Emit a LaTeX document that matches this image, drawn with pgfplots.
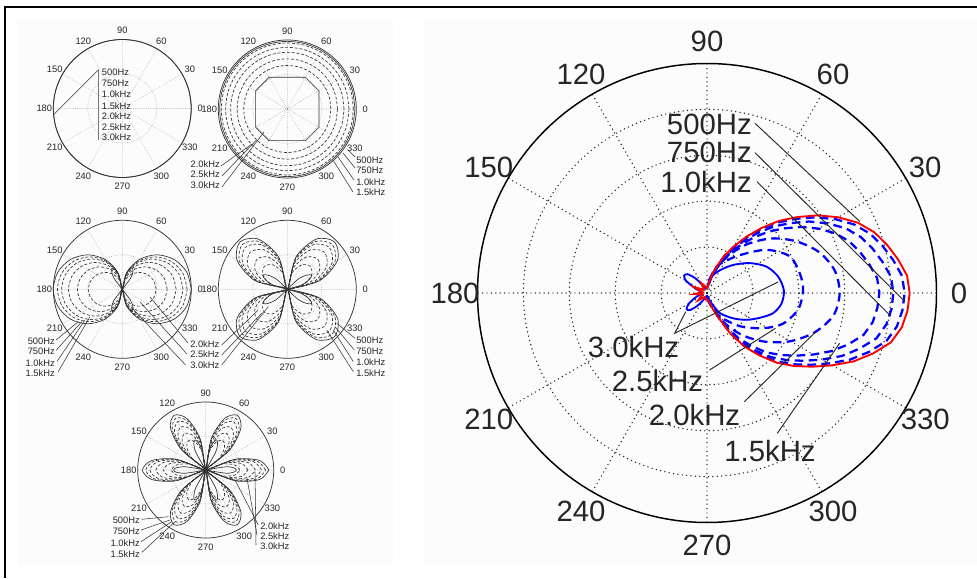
\documentclass[border=0pt]{standalone}
\usepackage{pgfplots}
\pgfplotsset{compat=1.18}
\usepgfplotslibrary{polar}
\usepackage{pgfplotstable}
\usepackage{fontspec}
\setmainfont{Liberation Sans}

% ---------- omnidirectional (order 1) : radius per frequency ----------
\pgfplotstableread{
a   r500  r750  r1k   r15   r20   r25   rall
0   0.980 0.957 0.894 0.822 0.727 0.631 1
15  0.980 0.957 0.894 0.822 0.727 0.631 1
30  0.980 0.957 0.894 0.822 0.727 0.631 1
45  0.980 0.957 0.894 0.822 0.727 0.631 1
60  0.980 0.957 0.894 0.822 0.727 0.631 1
75  0.980 0.957 0.894 0.822 0.727 0.631 1
90  0.980 0.957 0.894 0.822 0.727 0.631 1
105 0.980 0.957 0.894 0.822 0.727 0.631 1
120 0.980 0.957 0.894 0.822 0.727 0.631 1
135 0.980 0.957 0.894 0.822 0.727 0.631 1
150 0.980 0.957 0.894 0.822 0.727 0.631 1
165 0.980 0.957 0.894 0.822 0.727 0.631 1
180 0.980 0.957 0.894 0.822 0.727 0.631 1
195 0.980 0.957 0.894 0.822 0.727 0.631 1
210 0.980 0.957 0.894 0.822 0.727 0.631 1
225 0.980 0.957 0.894 0.822 0.727 0.631 1
240 0.980 0.957 0.894 0.822 0.727 0.631 1
255 0.980 0.957 0.894 0.822 0.727 0.631 1
270 0.980 0.957 0.894 0.822 0.727 0.631 1
285 0.980 0.957 0.894 0.822 0.727 0.631 1
300 0.980 0.957 0.894 0.822 0.727 0.631 1
315 0.980 0.957 0.894 0.822 0.727 0.631 1
330 0.980 0.957 0.894 0.822 0.727 0.631 1
345 0.980 0.957 0.894 0.822 0.727 0.631 1
360 0.980 0.957 0.894 0.822 0.727 0.631 1
}\tabB

% ---------- dipole ----------
\pgfplotstableread{
a   r500  r750  r1k   r15   r20   r25
0   1.000 0.940 0.880 0.780 0.650 0.490
15  0.966 0.908 0.850 0.753 0.628 0.473
30  0.866 0.814 0.762 0.675 0.563 0.424
45  0.707 0.665 0.622 0.551 0.460 0.346
60  0.500 0.470 0.440 0.390 0.325 0.245
75  0.259 0.243 0.228 0.202 0.168 0.127
90  0     0     0     0     0     0
105 0.259 0.243 0.228 0.202 0.168 0.127
120 0.500 0.470 0.440 0.390 0.325 0.245
135 0.707 0.665 0.622 0.551 0.460 0.346
150 0.866 0.814 0.762 0.675 0.563 0.424
165 0.966 0.908 0.850 0.753 0.628 0.473
180 1.000 0.940 0.880 0.780 0.650 0.490
195 0.966 0.908 0.850 0.753 0.628 0.473
210 0.866 0.814 0.762 0.675 0.563 0.424
225 0.707 0.665 0.622 0.551 0.460 0.346
240 0.500 0.470 0.440 0.390 0.325 0.245
255 0.259 0.243 0.228 0.202 0.168 0.127
270 0     0     0     0     0     0
285 0.259 0.243 0.228 0.202 0.168 0.127
300 0.500 0.470 0.440 0.390 0.325 0.245
315 0.707 0.665 0.622 0.551 0.460 0.346
330 0.866 0.814 0.762 0.675 0.563 0.424
345 0.966 0.908 0.850 0.753 0.628 0.473
360 1.000 0.940 0.880 0.780 0.650 0.490
}\tabC

% ---------- quadrupole ----------
\pgfplotstableread{
a   r500  r750  r1k   r15   r20   r25
0   0     0     0     0     0     0
15  0.485 0.460 0.430 0.380 0.310 0.235
30  0.840 0.797 0.745 0.658 0.537 0.407
45  0.970 0.920 0.860 0.760 0.620 0.470
60  0.840 0.797 0.745 0.658 0.537 0.407
75  0.485 0.460 0.430 0.380 0.310 0.235
90  0     0     0     0     0     0
105 0.485 0.460 0.430 0.380 0.310 0.235
120 0.840 0.797 0.745 0.658 0.537 0.407
135 0.970 0.920 0.860 0.760 0.620 0.470
150 0.840 0.797 0.745 0.658 0.537 0.407
165 0.485 0.460 0.430 0.380 0.310 0.235
180 0     0     0     0     0     0
195 0.485 0.460 0.430 0.380 0.310 0.235
210 0.840 0.797 0.745 0.658 0.537 0.407
225 0.970 0.920 0.860 0.760 0.620 0.470
240 0.840 0.797 0.745 0.658 0.537 0.407
255 0.485 0.460 0.430 0.380 0.310 0.235
270 0     0     0     0     0     0
285 0.485 0.460 0.430 0.380 0.310 0.235
300 0.840 0.797 0.745 0.658 0.537 0.407
315 0.970 0.920 0.860 0.760 0.620 0.470
330 0.840 0.797 0.745 0.658 0.537 0.407
345 0.485 0.460 0.430 0.380 0.310 0.235
360 0     0     0     0     0     0
}\tabD

% ---------- hexapole ----------
\pgfplotstableread{
a   r500  r750  r1k   r15   r20   r25
0   0.930 0.880 0.820 0.730 0.620 0.500
10  0.805 0.762 0.710 0.632 0.537 0.433
20  0.465 0.440 0.410 0.365 0.310 0.250
30  0     0     0     0     0     0
40  0.465 0.440 0.410 0.365 0.310 0.250
50  0.805 0.762 0.710 0.632 0.537 0.433
60  0.930 0.880 0.820 0.730 0.620 0.500
70  0.805 0.762 0.710 0.632 0.537 0.433
80  0.465 0.440 0.410 0.365 0.310 0.250
90  0     0     0     0     0     0
100 0.465 0.440 0.410 0.365 0.310 0.250
110 0.805 0.762 0.710 0.632 0.537 0.433
120 0.930 0.880 0.820 0.730 0.620 0.500
130 0.805 0.762 0.710 0.632 0.537 0.433
140 0.465 0.440 0.410 0.365 0.310 0.250
150 0     0     0     0     0     0
160 0.465 0.440 0.410 0.365 0.310 0.250
170 0.805 0.762 0.710 0.632 0.537 0.433
180 0.930 0.880 0.820 0.730 0.620 0.500
190 0.805 0.762 0.710 0.632 0.537 0.433
200 0.465 0.440 0.410 0.365 0.310 0.250
210 0     0     0     0     0     0
220 0.465 0.440 0.410 0.365 0.310 0.250
230 0.805 0.762 0.710 0.632 0.537 0.433
240 0.930 0.880 0.820 0.730 0.620 0.500
250 0.805 0.762 0.710 0.632 0.537 0.433
260 0.465 0.440 0.410 0.365 0.310 0.250
270 0     0     0     0     0     0
280 0.465 0.440 0.410 0.365 0.310 0.250
290 0.805 0.762 0.710 0.632 0.537 0.433
300 0.930 0.880 0.820 0.730 0.620 0.500
310 0.805 0.762 0.710 0.632 0.537 0.433
320 0.465 0.440 0.410 0.365 0.310 0.250
330 0     0     0     0     0     0
340 0.465 0.440 0.410 0.365 0.310 0.250
350 0.805 0.762 0.710 0.632 0.537 0.433
360 0.930 0.880 0.820 0.730 0.620 0.500
}\tabE

\pgfplotsset{
  polarbase/.style={hide axis, clip=false, anchor=center,
    xmin=-1, xmax=1, ymin=-1, ymax=1, data cs=polar},
  smallpolar/.style={polarbase, x=51.75pt, y=51.75pt},
  bigpolar/.style={polarbase, x=172.125pt, y=172.125pt},
  sl/.style={black!80, line width=0.5pt, smooth, mark=none},
  sd/.style={sl, dash pattern=on 2.2pt off 1.4pt},
  bd/.style={blue, line width=1.7pt, dash pattern=on 6.5pt off 4pt},
}

\newcommand{\smallgrid}[3]{%
  \foreach \a in {0,30,...,330}{\draw[sgrid] (#1) -- ++(\a:#2);}
  \draw[sgrid] (#1) circle[radius=#2/2];
  \draw[black!80, line width=0.55pt] (#1) circle[radius=#2];
  \foreach \a in {0,30,...,330}{\path (#1) ++(\a:#3) node[slab] {\a};}
}

\begin{document}
\begin{tikzpicture}[x=0.75pt, y=0.75pt,
  sgrid/.style={black!50, line width=0.45pt, dash pattern=on 0pt off 1.4pt, line cap=round},
  bgrid/.style={black!90, line width=1.1pt, dash pattern=on 0pt off 3.3pt, line cap=round},
  slab/.style={font=\fontsize{7}{8}\selectfont, text=black!85, inner sep=0pt},
  blab/.style={font=\fontsize{22}{24}\selectfont, text=black!85, inner sep=0pt},
  lead/.style={black!80, line width=0.4pt},
  blead/.style={black!85, line width=0.7pt}]

% panels and frame
\fill[black!1] (18,12) rectangle (393,558);
\fill[black!1] (424,12) rectangle (977,558);
\draw[line width=1.6pt] (4,571) -- (977,571);
\draw[line width=1.6pt] (5,571) -- (5,0);

\coordinate (cA) at (122.3,469.5);
\coordinate (cB) at (287.3,469);
\coordinate (cC) at (122.3,288.7);
\coordinate (cD) at (287.3,288.7);
\coordinate (cE) at (205.7,108);
\coordinate (cM) at (707,285);

\smallgrid{cA}{69}{78}
\smallgrid{cB}{69}{78}
\smallgrid{cC}{69}{78}
\smallgrid{cD}{69}{78}
\smallgrid{cE}{68}{77}

% large polar grid
\foreach \a in {0,30,...,330}{\draw[bgrid] (cM) -- ++(\a:229.5);}
\foreach \r in {0.2,0.4,0.6,0.8}{\draw[bgrid] (cM) circle[radius={\r*229.5}];}
\draw[black, line width=1.1pt] (cM) circle[radius=229.5];
\foreach \a in {0,30,...,330}{\path (cM) ++(\a:252) node[blab] {\a};}

% ---- plot A: all frequencies on the unit circle
\begin{axis}[smallpolar, at={(cA)}]
\addplot[sl] table[x=a, y=rall] {\tabB};
\end{axis}
\draw[lead] (98.3,438) -- (98.3,508) -- (53.3,463);
\foreach \t/\y in {500Hz/505.3, 750Hz/494.7, 1.0kHz/483.7, 1.5kHz/472, 2.0kHz/462, 2.5kHz/451.3, 3.0kHz/441.3}
  {\node[slab, anchor=west] at (101.7,\y) {\t};}

% ---- plot B
\begin{axis}[smallpolar, at={(cB)}]
\addplot[sl] table[x=a, y=r500] {\tabB};
\addplot[sd] table[x=a, y=r750] {\tabB};
\addplot[sd] table[x=a, y=r1k] {\tabB};
\addplot[sd] table[x=a, y=r15] {\tabB};
\addplot[sd] table[x=a, y=r20] {\tabB};
\addplot[sd] table[x=a, y=r25] {\tabB};
\addplot[black!80, line width=0.5pt] coordinates {(30,0.53) (60,0.53) (120,0.53) (150,0.53) (210,0.53) (240,0.53) (300,0.53) (330,0.53) (390,0.53)};
\end{axis}
\foreach \t/\y in {2.0kHz/414, 2.5kHz/404, 3.0kHz/393}{\node[slab, anchor=east] at (220,\y) {\t};}
\draw[lead] (221,412) -- (252,434);
\draw[lead] (222,402) -- (256.5,438);
\draw[lead] (222,391) -- (264,446);
\foreach \t/\y in {500Hz/418, 750Hz/407.3, 1.0kHz/396.3, 1.5kHz/385.7}{\node[slab, anchor=west] at (356,\y) {\t};}
\draw[lead] (355,421) -- (348,428);
\draw[lead] (355,410) -- (343,425);
\draw[lead] (354,398) -- (338,421);
\draw[lead] (353,386) -- (333,418);

% ---- plot C
\begin{axis}[smallpolar, at={(cC)}]
\addplot[sl] table[x=a, y=r500] {\tabC};
\addplot[sd] table[x=a, y=r750] {\tabC};
\addplot[sd] table[x=a, y=r1k] {\tabC};
\addplot[sd] table[x=a, y=r15] {\tabC};
\addplot[sd] table[x=a, y=r20] {\tabC};
\addplot[sd] table[x=a, y=r25] {\tabC};
\addplot[sl] coordinates {(45,0) (53,0.2) (59,0.3) (65,0.34) (71,0.3) (77,0.2) (85,0)
  (95,0) (103,0.2) (109,0.3) (115,0.34) (121,0.3) (127,0.2) (135,0)
  (225,0) (233,0.2) (239,0.3) (245,0.34) (251,0.3) (257,0.2) (265,0)
  (275,0) (283,0.2) (289,0.3) (295,0.34) (301,0.3) (307,0.2) (315,0)};
\end{axis}
\foreach \t/\y in {500Hz/236.3, 750Hz/226.3, 1.0kHz/215.3, 1.5kHz/204.7}{\node[slab, anchor=east] at (55,\y) {\t};}
\draw[lead] (56,238) -- (78.3,256.3);
\draw[lead] (56,227.5) -- (81.7,256.3);
\draw[lead] (57,216.5) -- (85,258);
\draw[lead] (58,206) -- (90,261.3);
\foreach \t/\y in {2.0kHz/233.7, 2.5kHz/223.7, 3.0kHz/213}{\node[slab, anchor=west] at (190,\y) {\t};}
\draw[lead] (188,235) -- (150,281);
\draw[lead] (187,224) -- (140,276);
\draw[lead] (185.5,213) -- (132,270);

% ---- plot D
\begin{axis}[smallpolar, at={(cD)}]
\addplot[sl] table[x=a, y=r500] {\tabD};
\addplot[sd] table[x=a, y=r750] {\tabD};
\addplot[sd] table[x=a, y=r1k] {\tabD};
\addplot[sd] table[x=a, y=r15] {\tabD};
\addplot[sd] table[x=a, y=r20] {\tabD};
\addplot[sd] table[x=a, y=r25] {\tabD};
\addplot[sl] coordinates {(8,0) (17,0.22) (24,0.35) (30,0.41) (36,0.35) (43,0.22) (52,0)
  (128,0) (137,0.22) (144,0.35) (150,0.41) (156,0.35) (163,0.22) (172,0)
  (188,0) (197,0.22) (204,0.35) (210,0.41) (216,0.35) (223,0.22) (232,0)
  (308,0) (317,0.22) (324,0.35) (330,0.41) (336,0.35) (343,0.22) (352,0)};
\end{axis}
\draw[lead] (221.7,233) -- (258.3,268);
\draw[lead] (221.7,223) -- (261.7,264.7);
\draw[lead] (221.7,213) -- (268.3,271.3);
\foreach \t/\y in {500Hz/238, 750Hz/227, 1.0kHz/215.7, 1.5kHz/205.3}{\node[slab, anchor=west] at (356,\y) {\t};}
\draw[lead] (355,239.7) -- (336.7,254.7);
\draw[lead] (354.3,228) -- (335,251.3);
\draw[lead] (353.3,216.3) -- (333.3,248);
\draw[lead] (353.3,206.3) -- (326.7,248);

% ---- plot E
\begin{axis}[polarbase, x=51pt, y=51pt, at={(cE)}]
\addplot[sl] table[x=a, y=r500] {\tabE};
\addplot[sd] table[x=a, y=r750] {\tabE};
\addplot[sd] table[x=a, y=r1k] {\tabE};
\addplot[sd] table[x=a, y=r15] {\tabE};
\addplot[sd] table[x=a, y=r20] {\tabE};
\addplot[sd] table[x=a, y=r25] {\tabE};
\addplot[sl] coordinates {(-15,0) (-9,0.3) (-4,0.42) (0,0.45) (4,0.42) (9,0.3) (15,0)
  (55,0) (61,0.3) (66,0.43) (70,0.47) (74,0.43) (79,0.3) (85,0)
  (95,0) (101,0.3) (106,0.43) (110,0.47) (114,0.43) (119,0.3) (125,0)
  (165,0) (171,0.3) (176,0.44) (180,0.47) (184,0.44) (189,0.3) (195,0)
  (235,0) (241,0.3) (246,0.43) (250,0.47) (254,0.43) (259,0.3) (265,0)
  (275,0) (281,0.3) (286,0.43) (290,0.47) (294,0.43) (299,0.3) (305,0)};
\end{axis}
\foreach \t/\y in {500Hz/57.3, 750Hz/46.3, 1.0kHz/34.7, 1.5kHz/23.7}{\node[slab, anchor=east] at (140,\y) {\t};}
\draw[lead] (141.7,58.7) -- (168.3,61.3);
\draw[lead] (141,48) -- (170,58);
\draw[lead] (141,36.3) -- (171.7,56.3);
\draw[lead] (142,25.7) -- (175,56.3);
\foreach \t/\y in {2.0kHz/52.3, 2.5kHz/42.3, 3.0kHz/32}{\node[slab, anchor=west] at (260,\y) {\t};}
\draw[lead] (258.3,53) -- (235,98);
\draw[lead] (257,43) -- (246.7,101.3);
\draw[lead] (256,33) -- (255,106.3);

% ---- large plot: measured response per frequency
\begin{axis}[bigpolar, at={(cM)}]
% 3.0 kHz
\addplot[blue, line width=1.4pt, smooth] coordinates {(-90,0.01) (-66,0.05) (-57,0.105) (-44,0.159) (-34,0.209) (-25,0.255) (-17,0.301) (-8,0.328) (2,0.335) (13,0.318) (24,0.283) (35,0.227) (47,0.167) (60,0.115) (74,0.074) (90,0.02) (115,0.03) (128,0.08) (136,0.118) (143,0.125) (150,0.105) (160,0.05) (180,0.02) (200,0.05) (210,0.09) (218,0.113) (225,0.105) (233,0.07) (245,0.03) (270,0.01)};
% 2.5 kHz
\addplot[bd, smooth] coordinates {(-85,0.02) (-75,0.05) (-61,0.118) (-45,0.205) (-32,0.289) (-22,0.357) (-10,0.404) (2,0.419) (12,0.413) (24,0.394) (36,0.32) (49,0.219) (60,0.16) (70,0.122) (80,0.06) (88,0.02)};
% 2.0 kHz
\addplot[bd, smooth] coordinates {(-85,0.02) (-80,0.03) (-70,0.07) (-60,0.15) (-50,0.24) (-40,0.33) (-30,0.42) (-20,0.50) (-10,0.56) (0,0.578) (10,0.565) (20,0.52) (30,0.45) (40,0.37) (50,0.28) (60,0.19) (70,0.11) (80,0.05) (85,0.02)};
% 1.5 kHz
\addplot[bd] coordinates {(-80,0.026) (-75,0.038) (-70,0.064) (-65,0.102) (-60,0.174) (-55,0.242) (-50,0.302) (-45,0.366) (-40,0.421) (-35,0.476) (-30,0.536) (-25,0.599) (-20,0.655) (-15,0.706) (-10,0.733) (-5,0.745) (0,0.751) (5,0.744) (10,0.718) (15,0.69) (20,0.659) (25,0.616) (30,0.561) (35,0.502) (40,0.438) (45,0.378) (50,0.315) (55,0.255) (60,0.2) (65,0.153) (70,0.104) (75,0.068) (80,0.034)};
% 1.0 kHz
\addplot[bd] coordinates {(-80,0.028) (-75,0.041) (-70,0.069) (-65,0.11) (-60,0.189) (-55,0.262) (-50,0.327) (-45,0.396) (-40,0.455) (-35,0.515) (-30,0.58) (-25,0.649) (-20,0.708) (-15,0.764) (-10,0.793) (-5,0.807) (0,0.812) (5,0.805) (10,0.777) (15,0.747) (20,0.713) (25,0.667) (30,0.607) (35,0.543) (40,0.474) (45,0.409) (50,0.34) (55,0.276) (60,0.216) (65,0.166) (70,0.112) (75,0.074) (80,0.037)};
% 750 Hz
\addplot[bd] coordinates {(-80,0.03) (-75,0.044) (-70,0.073) (-65,0.117) (-60,0.2) (-55,0.278) (-50,0.346) (-45,0.419) (-40,0.483) (-35,0.546) (-30,0.614) (-25,0.687) (-20,0.751) (-15,0.809) (-10,0.84) (-5,0.855) (0,0.861) (5,0.853) (10,0.824) (15,0.792) (20,0.756) (25,0.707) (30,0.644) (35,0.575) (40,0.502) (45,0.434) (50,0.361) (55,0.293) (60,0.229) (65,0.176) (70,0.119) (75,0.078) (80,0.039)};
% 500 Hz
\addplot[red, line width=1.4pt] coordinates {(-80,0.03) (-75,0.045) (-70,0.075) (-65,0.12) (-60,0.205) (-55,0.285) (-50,0.355) (-45,0.43) (-40,0.495) (-35,0.56) (-30,0.63) (-25,0.705) (-20,0.77) (-15,0.83) (-10,0.862) (-5,0.877) (0,0.883) (5,0.875) (10,0.845) (15,0.812) (20,0.775) (25,0.725) (30,0.66) (35,0.59) (40,0.515) (45,0.445) (50,0.37) (55,0.30) (60,0.235) (65,0.18) (70,0.122) (75,0.08) (80,0.04) (90,0.02) (105,0.03) (120,0.05) (135,0.02) (155,0.06) (170,0.02) (185,0.055) (200,0.02) (220,0.05) (240,0.02) (260,0.03) (280,0.03)};
\end{axis}

% large plot annotations
\node[blab, anchor=east] at (752,454) {500Hz};
\node[blab, anchor=east] at (752,425.3) {750Hz};
\node[blab, anchor=east] at (752,396.3) {1.0kHz};
\draw[blead] (755,454.7) -- (860,356.3);
\draw[blead] (755,425.3) -- (905,276.3);
\draw[blead] (757,396.3) -- (890.7,262);
\node[blab] at (633.5,230.5) {3.0kHz};
\node[blab] at (657.5,197) {2.5kHz};
\node[blab] at (694.5,163) {2.0kHz};
\node[blab] at (770,127) {1.5kHz};
\draw[blead] (685.7,266.3) -- (674.7,244.7) -- (778,296);
\draw[blead] (709.5,208) -- (775.5,249.7);
\draw[blead] (744.3,176.3) -- (815.8,246.3);
\draw[blead] (777.3,144.7) -- (839.6,234.7);

\pgfresetboundingbox
\useasboundingbox (0,0) rectangle (977,578);
\end{tikzpicture}
\end{document}
